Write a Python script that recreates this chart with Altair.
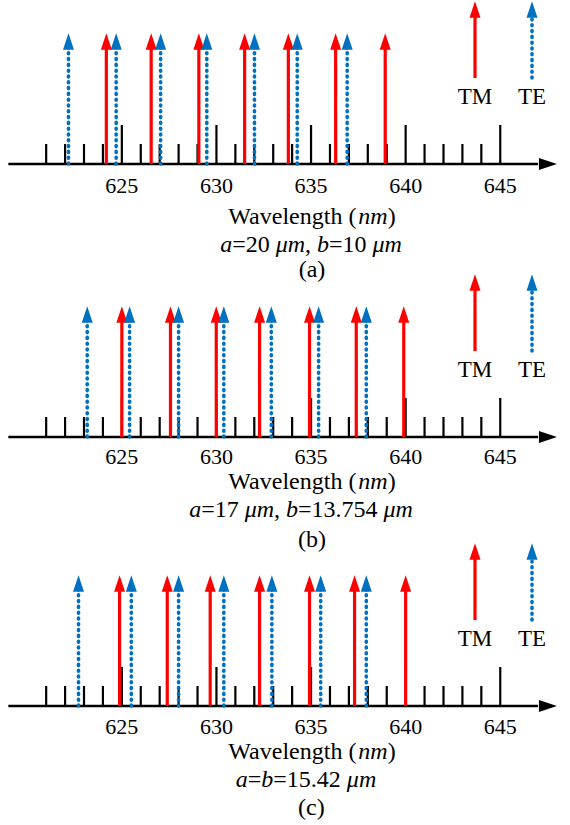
import altair as alt
import pandas as pd

# ---------------- data ----------------
TAGS = ["(a)", "(b)", "(c)"]

TM_A = [624.18, 626.55, 629.07, 631.49, 633.80, 636.30, 638.92]
TE_A = [622.18, 624.70, 627.05, 629.49, 632.01, 634.27, 636.91]

TM_B = [625.00, 627.57, 629.99, 632.28, 634.92, 637.39, 639.90]
TE_B = [623.17, 625.41, 628.00, 630.39, 632.90, 635.40, 637.92]

TM_C = [624.88, 627.40, 629.67, 632.28, 634.92, 637.30, 640.00]
TE_C = [622.71, 625.50, 628.00, 630.39, 632.93, 635.51, 637.92]

TICK_WL = list(range(621, 646))
LABEL_WL = [625, 630, 635, 640, 645]
LEGEND_NAMES = ["TM", "TE"]

MU = "\u03bcm"
WAVE_LINE = [("Wavelength (", False), ("nm", True), (")", False)]
PARAMS = [
    [("a", True), ("=20 ", False), (MU, True), (", ", False), ("b", True), ("=10 ", False), (MU, True)],
    [("a", True), ("=17 ", False), (MU, True), (", ", False), ("b", True), ("=13.754 ", False), (MU, True)],
    [("a", True), ("=", False), ("b", True), ("=15.42 ", False), (MU, True)],
]

# ---------------- layout / style ----------------
W = 570
PPN = 18.92                 # pixels per nm
X_LO = 618.56
X_HI = X_LO + W / PPN
AXIS_START = 619.0
AXIS_END = 647.0
AXIS_HEAD_X = 647.52
ABOVE = 164                 # px above the axis line in each panel
PANEL_H = [272.7, 268.3, 284.0]
# (tick label, wavelength line, parameter line, tag) offsets below axis
TEXT_Y = [(-22, -53, -81, -106), (-20, -45, -73, -103), (-21, -46, -74, -102)]
PARAM_CX = [311, 301, 306]
WAVE_CX = 312
TAG_CX = 312

ARROW_TIP = 130
SHAFT_TOP = 118
HEAD_H = 15
LEG_BOTTOM = 86
LEG_TIP = 162
LEG_TEXT_Y = 67
LEG_PX = [475, 532]

RED = "#FF0000"
BLUE = "#0070C0"
FONT = "Liberation Serif"
TICK_FS = 22
TITLE_FS = 24
LEG_FS = 23

HEAD_SHAPE = "M-1,1.5L0,-1.5L1,1.5Z"     # arrow head, width 10 / height 15 at size 100
AXIS_HEAD_SHAPE = "M-1.5,-1L1.5,0L-1.5,1Z"

ROMAN = {" ": .25, "(": .333, ")": .333, ",": .25, ".": .25, "=": .564,
         "W": .944, "a": .444, "v": .5, "e": .444, "l": .278, "n": .5,
         "g": .5, "t": .278, "h": .5, "m": .778, "T": .611, "M": .889, "E": .611}
ITALIC = {"a": .5, "b": .5, "n": .5, "m": .722, "\u03bc": .5}


def px_to_nm(px):
    return X_LO + px / PPN


def text_width(s, italic, size):
    table = ITALIC if italic else ROMAN
    return sum(table.get(ch, 0.5) for ch in s) * size


def line_rows(line, cx_px, y, size):
    total = sum(text_width(t, it, size) for t, it in line)
    x = cx_px - total / 2
    rows = []
    for t, it in line:
        rows.append({"x": px_to_nm(x), "y": y, "text": t, "italic": it})
        x += text_width(t, it, size)
    return rows


def panel(i, tm, te):
    below = PANEL_H[i] - ABOVE
    xs = alt.Scale(domain=[X_LO, X_HI], nice=False, zero=False)
    ys = alt.Scale(domain=[-below, ABOVE], nice=False, zero=False)

    def X(f):
        return alt.X(f, type="quantitative", scale=xs, axis=None)

    def Y(f):
        return alt.Y(f, type="quantitative", scale=ys, axis=None)

    ly, wy, py, ty = TEXT_Y[i]

    axis_df = pd.DataFrame({"x": [AXIS_START], "x2": [AXIS_END], "y": [0]})
    axis_line = alt.Chart(axis_df).mark_rule(color="black", strokeWidth=2.7).encode(
        x=X("x"), x2="x2", y=Y("y"))
    head_df = pd.DataFrame({"x": [AXIS_HEAD_X], "y": [0]})
    axis_head = alt.Chart(head_df).mark_point(
        shape=AXIS_HEAD_SHAPE, filled=True, size=144, color="black", opacity=1, strokeWidth=0
    ).encode(x=X("x"), y=Y("y"))

    tick_df = pd.DataFrame({"wl": TICK_WL, "y0": 0,
                            "h": [39 if w % 5 == 0 else 20 for w in TICK_WL]})
    ticks = alt.Chart(tick_df).mark_rule(color="black", strokeWidth=2.2).encode(
        x=X("wl"), y=Y("y0"), y2="h")

    lab_df = pd.DataFrame({"wl": LABEL_WL, "y": ly, "text": [str(v) for v in LABEL_WL]})
    labels = alt.Chart(lab_df).mark_text(
        font=FONT, fontSize=TICK_FS, align="center", baseline="middle", color="black"
    ).encode(x=X("wl"), y=Y("y"), text="text:N")

    def arrows(wls, color, dashed, bottom, top, tip):
        df = pd.DataFrame({"wl": wls, "y0": bottom, "y1": top, "yh": tip - HEAD_H / 2})
        if dashed:
            shaft = alt.Chart(df).mark_rule(color=color, strokeWidth=3.6,
                                            strokeDash=[1, 4.8], strokeCap="round")
        else:
            shaft = alt.Chart(df).mark_rule(color=color, strokeWidth=3.2)
        shaft = shaft.encode(x=X("wl"), y=Y("y0"), y2="y1")
        head = alt.Chart(df).mark_point(
            shape=HEAD_SHAPE, filled=True, size=121, color=color, opacity=1, strokeWidth=0
        ).encode(x=X("wl"), y=Y("yh"))
        return shaft + head

    tm_arrows = arrows(tm, RED, False, 0, SHAFT_TOP, ARROW_TIP)
    te_arrows = arrows(te, BLUE, True, 0, SHAFT_TOP, ARROW_TIP)

    leg_x = [px_to_nm(p) for p in LEG_PX]
    leg_tm = arrows([leg_x[0]], RED, False, LEG_BOTTOM, LEG_TIP - 12, LEG_TIP)
    leg_te = arrows([leg_x[1]], BLUE, True, LEG_BOTTOM, LEG_TIP - 12, LEG_TIP)
    leg_df = pd.DataFrame({"x": leg_x, "y": LEG_TEXT_Y, "text": LEGEND_NAMES})
    leg_text = alt.Chart(leg_df).mark_text(
        font=FONT, fontSize=LEG_FS, align="center", baseline="middle", color="black"
    ).encode(x=X("x"), y=Y("y"), text="text:N")

    rows = []
    rows += line_rows(WAVE_LINE, WAVE_CX, wy, TITLE_FS)
    rows += line_rows(PARAMS[i], PARAM_CX[i], py, TITLE_FS)
    rows += line_rows([(TAGS[i], False)], TAG_CX, ty, TITLE_FS)
    seg = pd.DataFrame(rows)
    normal_text = alt.Chart(seg[~seg["italic"]][["x", "y", "text"]]).mark_text(
        font=FONT, fontSize=TITLE_FS, align="left", baseline="middle", color="black"
    ).encode(x=X("x"), y=Y("y"), text="text:N")
    italic_text = alt.Chart(seg[seg["italic"]][["x", "y", "text"]]).mark_text(
        font=FONT, fontSize=TITLE_FS, fontStyle="italic", align="left",
        baseline="middle", color="black"
    ).encode(x=X("x"), y=Y("y"), text="text:N")

    return alt.layer(
        ticks, axis_line, axis_head, labels, tm_arrows, te_arrows,
        leg_tm, leg_te, leg_text, normal_text, italic_text
    ).properties(width=W, height=PANEL_H[i])


chart = alt.vconcat(
    panel(0, TM_A, TE_A),
    panel(1, TM_B, TE_B),
    panel(2, TM_C, TE_C),
    spacing=0, bounds="flush"
).resolve_scale(x="independent", y="independent").properties(
    padding=0
).configure_view(strokeWidth=0)

chart.save("out.html", embed_options={"renderer": "svg", "actions": False})
